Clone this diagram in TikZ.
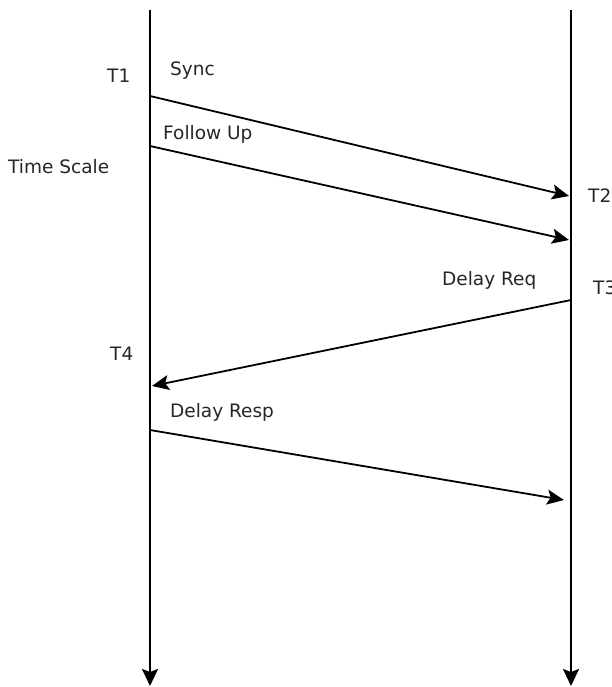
\documentclass[tikz,border=0pt]{standalone}
\usepackage{fontspec}
\setmainfont{DejaVu Sans}
\usetikzlibrary{arrows.meta}

\begin{document}
\begin{tikzpicture}[
  x=1pt, y=-1pt,
  font=\fontsize{18.5}{21}\selectfont,
  lbl/.style={inner sep=0pt, anchor=base west, text=black!85},
  tline/.style={line width=2pt, -{Stealth[length=17pt,width=16pt,inset=3pt]}},
  msg/.style={line width=1.8pt, -{Stealth[length=17pt,width=15pt,inset=3.5pt]}},
]
  \useasboundingbox (0,0) rectangle (611,687);
  % time lines
  \coordinate (mtop) at (150,10);
  \coordinate (mbot) at (150,686);
  \coordinate (stop) at (571,10);
  \coordinate (sbot) at (571,686);
  \draw[tline] (mtop) -- (mbot);
  \draw[tline] (stop) -- (sbot);
  % message end points
  \coordinate (t1) at (150,96);
  \coordinate (t2) at (569,196);
  \coordinate (fu) at (150,146);
  \coordinate (fuend) at (569,240);
  \coordinate (t3) at (571,300);
  \coordinate (t4) at (152,386);
  \coordinate (dr) at (150,430);
  \coordinate (drend) at (564,500);
  % labels
  \node[lbl] (lt1) at (107,83) {T1};
  \node[lbl] (lsync) at (170,76) {Sync};
  \node[lbl] (lfu) at (163,140) {Follow Up};
  \node[lbl] (lscale) at (8,174) {Time Scale};
  \node[lbl] (lt2) at (588,202) {T2};
  \node[lbl] (lreq) at (442,285) {Delay Req};
  \node[lbl] (lt3) at (593,294) {T3};
  \node[lbl] (lt4) at (110,360) {T4};
  \node[lbl] (lresp) at (170,417) {Delay Resp};
  % messages
  \draw[msg] (t1) -- (t2);
  \draw[msg] (fu) -- (fuend);
  \draw[msg] (t3) -- (t4);
  \draw[msg] (dr) -- (drend);
\end{tikzpicture}
\end{document}
